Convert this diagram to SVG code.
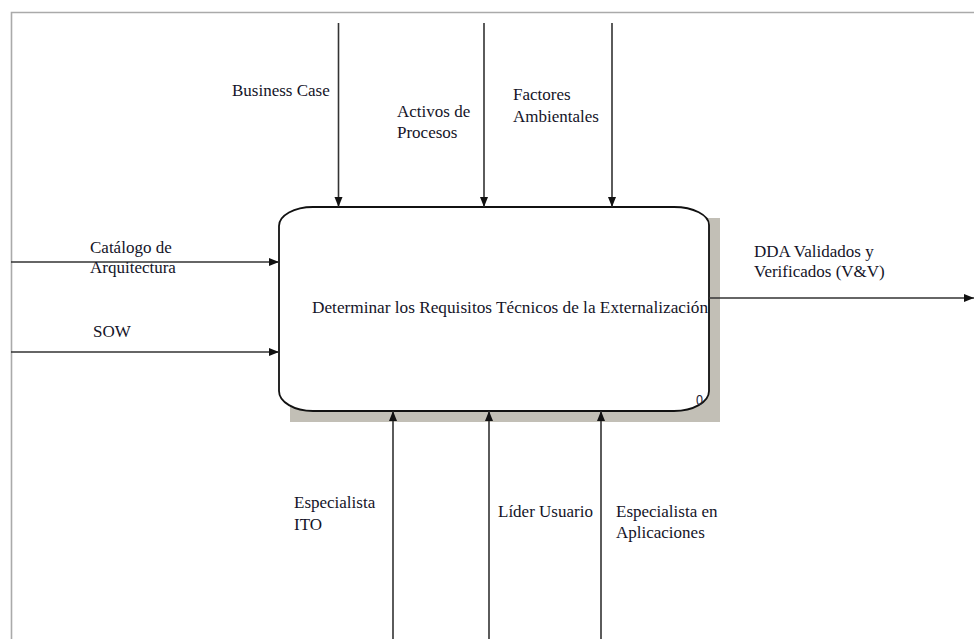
<svg xmlns="http://www.w3.org/2000/svg" width="974" height="639" viewBox="0 0 974 639">
<defs>
<style>
.t{font-family:"Liberation Serif","Times New Roman","DejaVu Serif",serif;font-size:17px;fill:#141428}
.c{stroke:#333;stroke-width:1.6;fill:none}
</style>
<marker id="ah" viewBox="0 0 10 10" refX="10" refY="5" markerWidth="10" markerHeight="10" markerUnits="userSpaceOnUse" orient="auto">
<path d="M0,1 L10,5 L0,9 Z" fill="#111"/>
</marker>
</defs>
<rect x="0" y="0" width="974" height="639" fill="#fff"/>
<path d="M11.5,639 V12.5 H974" fill="none" stroke="#aaa" stroke-width="1.6"/>
<g id="activity">
<rect x="290" y="218" width="430" height="204" fill="#c2bfb6"/>
<path d="M313,207 H674 A35,18 0 0 1 709,225 V391 A35,20 0 0 1 674,411 H313 A34,20 0 0 1 279,391 V226 A34,19 0 0 1 313,207 Z" fill="#fff" stroke="#111" stroke-width="1.8"/>
<text class="t" x="312" y="313" textLength="396" lengthAdjust="spacingAndGlyphs">Determinar los Requisitos Técnicos de la Externalización</text>
<text x="696" y="405" textLength="7" lengthAdjust="spacingAndGlyphs" style="font-family:'Liberation Sans',Arial,sans-serif;font-size:15px;fill:#223">0</text>
</g>
<g id="connectors">
<line class="c" x1="338.5" y1="23" x2="338.5" y2="207" marker-end="url(#ah)"/>
<line class="c" x1="484" y1="23" x2="484" y2="207" marker-end="url(#ah)"/>
<line class="c" x1="612" y1="23" x2="612" y2="207" marker-end="url(#ah)"/>
<line class="c" x1="11" y1="262" x2="279" y2="262" marker-end="url(#ah)"/>
<line class="c" x1="11" y1="352" x2="279" y2="352" marker-end="url(#ah)"/>
<line class="c" x1="709" y1="298" x2="974" y2="298" marker-end="url(#ah)"/>
<line class="c" x1="393" y1="639" x2="393" y2="411" marker-end="url(#ah)"/>
<line class="c" x1="489" y1="639" x2="489" y2="411" marker-end="url(#ah)"/>
<line class="c" x1="601" y1="639" x2="601" y2="411" marker-end="url(#ah)"/>
</g>
<g id="labels">
<text class="t" x="232" y="96">Business Case</text>
<text class="t" x="397" y="117">Activos de</text>
<text class="t" x="397" y="138">Procesos</text>
<text class="t" x="513" y="100">Factores</text>
<text class="t" x="513" y="122">Ambientales</text>
<text class="t" x="90" y="253">Catálogo de</text>
<text class="t" x="90" y="273">Arquitectura</text>
<text class="t" x="93" y="337">SOW</text>
<text class="t" x="754" y="257">DDA Validados y</text>
<text class="t" x="754" y="277">Verificados (V&amp;V)</text>
<text class="t" x="294" y="508">Especialista</text>
<text class="t" x="294" y="530">ITO</text>
<text class="t" x="498" y="517">Líder Usuario</text>
<text class="t" x="616" y="517">Especialista en</text>
<text class="t" x="616" y="538">Aplicaciones</text>
</g>
</svg>
